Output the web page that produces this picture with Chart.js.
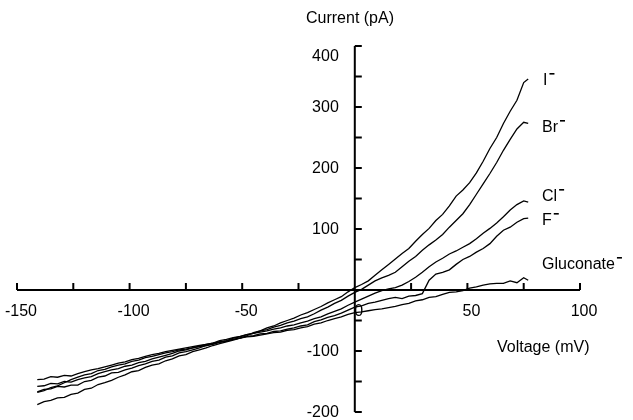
<!DOCTYPE html>
<html><head><meta charset="utf-8">
<script src="https://cdn.jsdelivr.net/npm/chart.js@4.4.1/dist/chart.umd.min.js"></script>
<style>html,body{margin:0;padding:0;background:#fff}#wrap{position:relative;width:633px;height:420px}</style>
</head><body><div id="wrap"><canvas id="c"></canvas></div>
<script>
const voltage = [-141,-138,-135,-132,-129,-126,-123,-120,-117,-114,-111,-108,-105,-102,-99,-96,-93,-90,-87,-84,-81,-78,-75,-72,-69,-66,-63,-60,-57,-54,-51,-48,-45,-42,-39,-36,-33,-30,-27,-24,-21,-18,-15,-12,-9,-6,-3,
  0,3,6,9,12,15,18,21,24,27,30,33,36,39,42,45,48,51,54,57,60,63,66,69,72,75,77];

const iodide = [-188,-183,-181,-177,-176,-171,-169,-163,-161,-155,-152,-148,-143,-139,-134,-132,-127,-123,-121,-116,-113,-108,-106,-101,-98,-95,-91,-88,-85,-82,-79,-75,-70,-67,-62,-59,-54,-50,-46,-41,-37,-32,-27,-21,-16,-11,-3,
  4,9,15,24,33,42,51,60,68,80,91,101,114,124,138,154,164,176,192,211,232,250,273,293,311,340,346];
const bromide = [-167,-163,-162,-158,-159,-156,-156,-150,-148,-143,-141,-136,-135,-131,-128,-124,-121,-117,-115,-110,-108,-103,-101,-98,-95,-91,-88,-85,-83,-79,-77,-73,-71,-67,-65,-61,-58,-54,-51,-47,-44,-39,-33,-28,-22,-17,-10,
  -4,1,8,15,20,24,29,38,47,55,65,74,82,91,103,114,125,140,157,174,191,209,229,247,264,275,273];
const chloride = [-158,-157,-153,-154,-150,-151,-147,-144,-142,-137,-134,-131,-129,-125,-123,-119,-117,-113,-110,-107,-104,-100,-98,-95,-92,-89,-87,-83,-81,-78,-76,-73,-71,-69,-67,-64,-62,-59,-57,-54,-51,-47,-44,-39,-35,-31,-25,
  -20,-15,-10,-5,-1,2,4,8,14,21,29,38,46,52,59,64,70,76,84,93,101,110,120,131,140,146,144];
const fluoride = [-168,-165,-160,-157,-152,-147,-143,-139,-137,-132,-130,-126,-123,-121,-117,-115,-111,-109,-106,-103,-101,-98,-97,-95,-93,-91,-89,-86,-84,-81,-79,-76,-75,-72,-71,-68,-67,-64,-62,-59,-57,-52,-49,-45,-42,-38,-33,
  -28,-26,-22,-20,-17,-14,-12,-14,-10,-9,-6,16,26,29,33,42,50,55,62,68,76,88,98,103,111,117,118];
const gluconate = [-147,-146,-142,-143,-140,-141,-137,-134,-131,-129,-126,-123,-120,-118,-114,-112,-109,-106,-104,-101,-99,-97,-95,-93,-91,-89,-87,-85,-84,-81,-79,-77,-76,-74,-72,-70,-69,-66,-65,-62,-60,-56,-54,-50,-47,-44,-40,
  -37,-36,-34,-32,-31,-29,-27,-24,-22,-18,-16,-12,-11,-7,-4,-3,-1,3,5,8,10,11,11,15,12,20,16];

const seriesNames = ['I', 'Br', 'Cl', 'F', 'Gluconate'];
const yTickLabels = [400, 300, 200, 100, -100, -200];
const xMinorStep = 25;
const yMinorStep = 50;

const FONT = '"Liberation Sans", Arial, Helvetica, sans-serif';

function pts(vals) { return voltage.map((v, i) => ({ x: v, y: vals[i] })); }

const seriesValues = [iodide, bromide, chloride, fluoride, gluconate];

const labelPos = [
  { dx: 543, dy: 81 }, { dx: 542, dy: 128 }, { dx: 542, dy: 197 }, { dx: 542, dy: 221 }, { dx: 542, dy: 265 }
];

const axisPlugin = {
  id: 'crossAxes',
  afterDatasetsDraw(chart) {
    const { ctx, scales: { x, y } } = chart;
    const x0 = x.getPixelForValue(0), y0 = y.getPixelForValue(0);
    ctx.save();
    ctx.strokeStyle = '#000';
    ctx.lineWidth = 2;
    ctx.beginPath();
    ctx.moveTo(x.getPixelForValue(x.min), y0);
    ctx.lineTo(x.getPixelForValue(x.max), y0);
    ctx.moveTo(x0, y.getPixelForValue(y.max));
    ctx.lineTo(x0, y.getPixelForValue(y.min));
    for (let v = x.min; v <= x.max; v += xMinorStep) {
      if (v === 0) continue;
      const px = x.getPixelForValue(v);
      ctx.moveTo(px, y0); ctx.lineTo(px, y0 - 7);
    }
    for (let v = y.min; v <= y.max; v += yMinorStep) {
      if (v === 0) continue;
      const py = y.getPixelForValue(v);
      ctx.moveTo(x0, py); ctx.lineTo(x0 + 7, py);
    }
    ctx.stroke();

    ctx.fillStyle = '#000';
    ctx.font = '16px ' + FONT;
    ctx.textBaseline = 'middle';
    ctx.textAlign = 'right';
    yTickLabels.forEach((v) => {
      const py = Math.max(y.getPixelForValue(v) + 1, 57);
      ctx.fillText(String(v), x0 - 16, py);
    });
    ctx.textAlign = 'center';
    ctx.fillText('Current (pA)', 350, 19);
    ctx.textAlign = 'left';
    ctx.fillText('Voltage (mV)', 497, 348);
    seriesNames.forEach((name, i) => {
      const p = labelPos[i];
      ctx.fillText(name, p.dx, p.dy);
      const w = ctx.measureText(name).width;
      ctx.fillRect(p.dx + w + 2, p.dy - 8, 5, 1.6);
    });
    ctx.restore();
  }
};

new Chart(document.getElementById('c'), {
  type: 'scatter',
  data: {
    datasets: seriesValues.map((vals, i) => ({
      label: seriesNames[i],
      data: pts(vals),
      showLine: true,
      borderColor: '#000',
      borderWidth: 1.3,
      pointRadius: 0,
      tension: 0,
      fill: false
    }))
  },
  options: {
    responsive: true,
    maintainAspectRatio: false,
    animation: false,
    layout: { padding: { left: 17, right: 53, top: 46, bottom: 8 } },
    plugins: { legend: { display: false }, tooltip: { enabled: false } },
    scales: {
      x: {
        type: 'linear', min: -150, max: 100, position: { y: 0 },
        grid: { display: false, drawTicks: false },
        border: { display: false },
        afterFit: (s) => { s.height = 0; s.paddingLeft = 0; s.paddingRight = 0; },
        ticks: { stepSize: 50, padding: 12, labelOffset: 4, color: '#000', font: { family: FONT, size: 16 }, maxRotation: 0, autoSkip: false }
      },
      y: {
        type: 'linear', min: -200, max: 400, position: { x: 0 },
        grid: { display: false, drawTicks: false },
        border: { display: false },
        afterFit: (s) => { s.width = 0; s.paddingTop = 0; s.paddingBottom = 0; },
        ticks: { display: false, stepSize: 100 }
      }
    }
  },
  plugins: [axisPlugin]
});
</script>
</body></html>
